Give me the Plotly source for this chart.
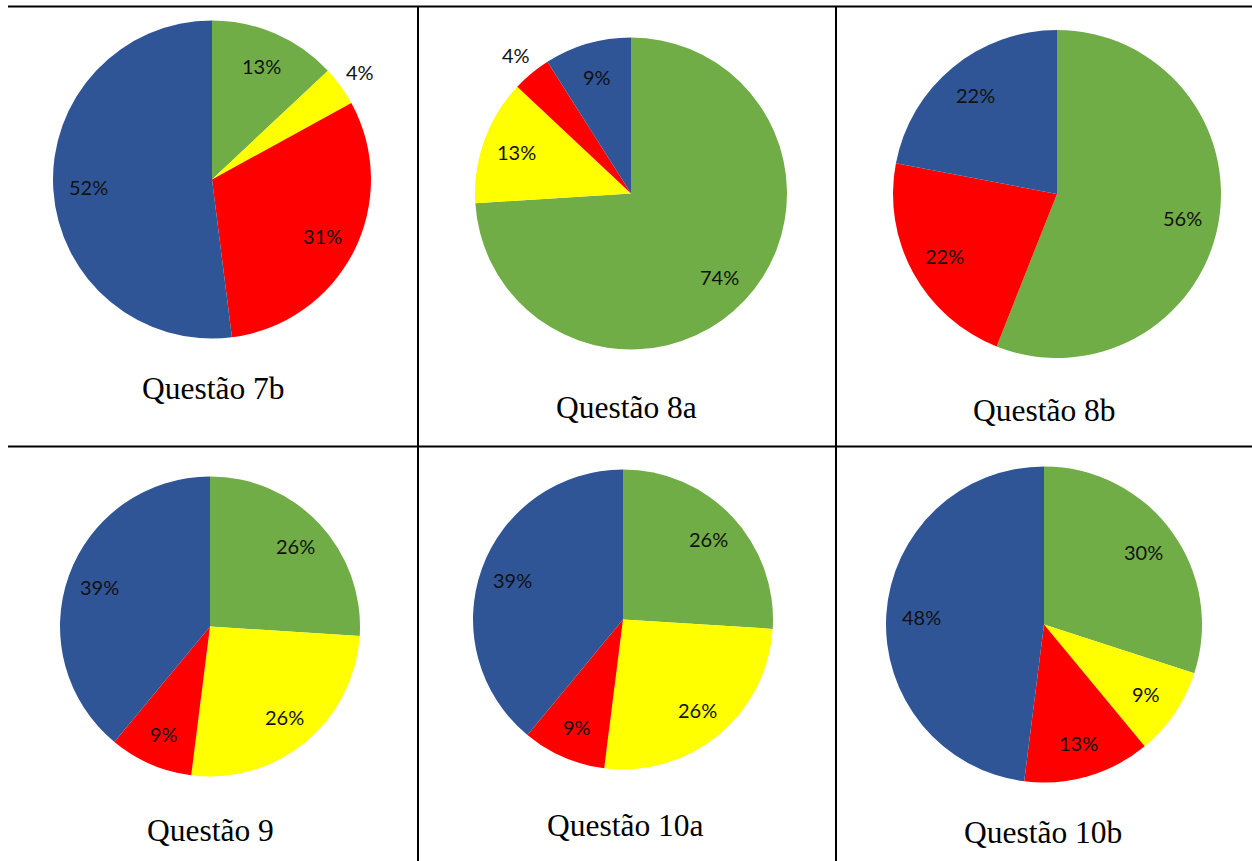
import math
import plotly.graph_objects as go

W, H = 1252, 861

# Answer categories (same order and colour in every pie)
categorias = ["Resposta A", "Resposta B", "Resposta C", "Resposta D"]
cores = ["#70AD47", "#FFFF00", "#FF0000", "#2F5597"]

# Percentages per question
questoes = ["Questão 7b", "Questão 8a", "Questão 8b", "Questão 9", "Questão 10a", "Questão 10b"]
q7b = [13, 4, 31, 52]
q8a = [74, 13, 4, 9]
q8b = [56, 0, 22, 22]
q9 = [26, 26, 9, 39]
q10a = [26, 26, 9, 39]
q10b = [30, 9, 13, 48]
valores = [q7b, q8a, q8b, q9, q10a, q10b]

# Pie placement in pixels: centre x, centre y, radius; caption centre
pie_geom = [
    (212, 179.5, 159), (631, 193.5, 156), (1057, 194, 164),
    (210, 626.5, 150), (623, 619.5, 150), (1044, 624.5, 158),
]
caption_pos = [(213, 388), (626, 407), (1044, 410), (210, 830), (625, 825), (1043, 832)]

LABEL_IN = 0.78      # inside labels sit at this fraction of the radius
LABEL_OUT_GAP = 24   # outside labels sit this many px beyond the rim
SMALL = 6            # slices below this percentage get an outside label


def px_x(x):
    return x / W


def px_y(y):
    return 1 - y / H


fig = go.Figure()

for nome, vals, (cx, cy, r) in zip(questoes, valores, pie_geom):
    fig.add_trace(go.Pie(
        labels=categorias,
        values=vals,
        textinfo="none",
        sort=False,
        direction="clockwise",
        rotation=0,
        marker=dict(colors=cores, line=dict(width=0)),
        hoverinfo="label+percent",
        name=nome,
        showlegend=False,
        domain=dict(x=[px_x(cx - r), px_x(cx + r)], y=[px_y(cy + r), px_y(cy - r)]),
    ))

    # percentage labels on the slice bisectors (clockwise from 12 o'clock)
    total = sum(vals)
    acc = 0
    for v in vals:
        if v > 0:
            ang = 2 * math.pi * (acc + v / 2) / total
            dist = r + LABEL_OUT_GAP if v < SMALL else r * LABEL_IN
            lx = cx + dist * math.sin(ang)
            ly = cy - dist * math.cos(ang)
            fig.add_annotation(
                x=px_x(lx), y=px_y(ly), xref="paper", yref="paper",
                text=f"{v}%", showarrow=False, xanchor="center", yanchor="middle",
                font=dict(family="Lato", size=20, color="#111111"),
            )
        acc += v

for nome, (x, y) in zip(questoes, caption_pos):
    fig.add_annotation(
        x=px_x(x), y=px_y(y), xref="paper", yref="paper",
        text=nome, showarrow=False, xanchor="center", yanchor="middle",
        font=dict(family="Liberation Serif", size=31.5, color="black"),
    )

# Table rules
line = dict(color="black", width=2)
fig.add_shape(type="line", xref="paper", yref="paper",
              x0=px_x(8), x1=1, y0=px_y(6.5), y1=px_y(6.5), line=line)
fig.add_shape(type="line", xref="paper", yref="paper",
              x0=px_x(8), x1=1, y0=px_y(446.5), y1=px_y(446.5), line=line)
for xv in (418, 836):
    fig.add_shape(type="line", xref="paper", yref="paper",
                  x0=px_x(xv), x1=px_x(xv), y0=0, y1=px_y(6.5), line=line)

fig.update_layout(
    width=W, height=H,
    margin=dict(l=0, r=0, t=0, b=0),
    paper_bgcolor="white", plot_bgcolor="white",
)

fig.write_html("out.html")
